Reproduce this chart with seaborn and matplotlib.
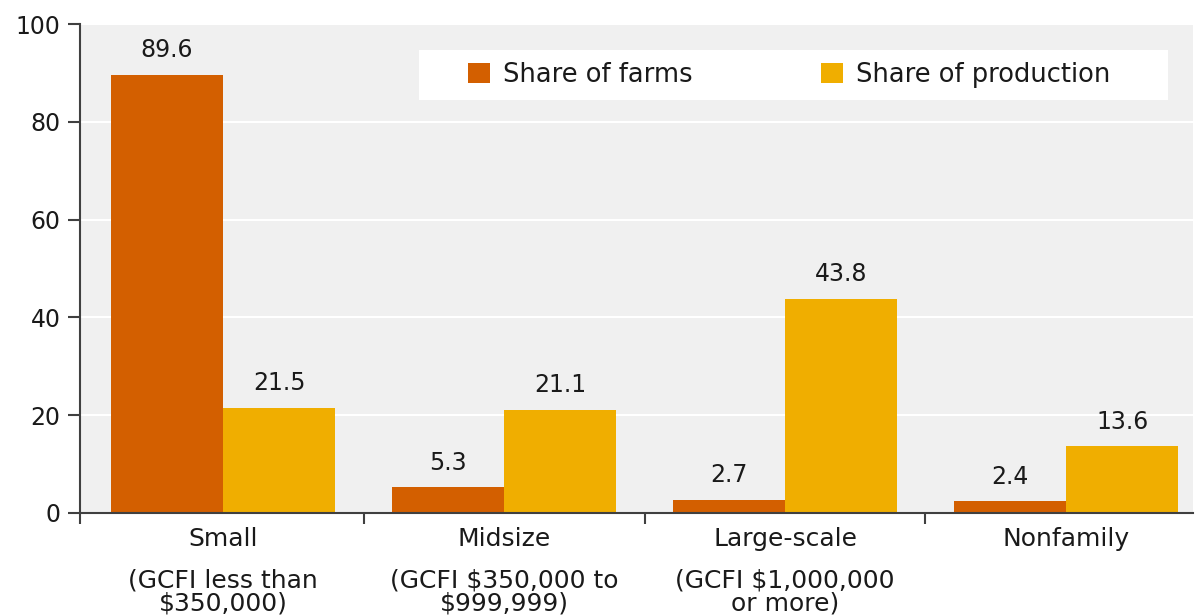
import matplotlib
matplotlib.use("Agg")
import matplotlib.pyplot as plt
import matplotlib.transforms as mtransforms
from matplotlib.patches import Rectangle
import seaborn as sns
import pandas as pd

# ---- data ----
categories = ["Small", "Midsize", "Large-scale", "Nonfamily"]
subtitles = ["(GCFI less than\n\\$350,000)",
             "(GCFI \\$350,000 to\n\\$999,999)",
             "(GCFI \\$1,000,000\nor more)",
             ""]
series_names = ["Share of farms", "Share of production"]
share_farms = [89.6, 5.3, 2.7, 2.4]
share_production = [21.5, 21.1, 43.8, 13.6]
y_ticks = [0, 20, 40, 60, 80, 100]

colors = ["#D35F00", "#F0AE00"]

df = pd.DataFrame({
    "category": categories * 2,
    "series": [series_names[0]] * 4 + [series_names[1]] * 4,
    "value": share_farms + share_production,
})

sns.set_theme(style="whitegrid", rc={
    "axes.facecolor": "#F0F0F0",
    "figure.facecolor": "white",
    "grid.color": "white",
    "grid.linewidth": 1.5,
})
plt.rcParams["font.family"] = ["DejaVu Sans"]

fig = plt.figure(figsize=(11.95, 6.16), dpi=100)
ax = fig.add_axes([80 / 1195, 1 - 513 / 616, 1113 / 1195, (513 - 24) / 616])

sns.barplot(data=df, x="category", y="value", hue="series", order=categories,
            hue_order=series_names, palette=colors, saturation=1, ax=ax,
            width=0.8, linewidth=0, zorder=2)

for cont in ax.containers:
    ax.bar_label(cont, fmt="%.1f", padding=9, fontsize=17, color="#1a1a1a")

xl = (-0.509, 3.452)
ax.set_xlim(*xl)
ax.set_ylim(0, 100)
ax.set_yticks(y_ticks)
ax.set_yticklabels([str(t) for t in y_ticks], fontsize=17, color="#1a1a1a")
ax.set_xlabel("")
ax.set_ylabel("")
ax.grid(axis="x", visible=False)
ax.grid(axis="y", color="white", linewidth=1.5)
ax.set_axisbelow(True)

for s in ["top", "right"]:
    ax.spines[s].set_visible(False)
for s in ["left", "bottom"]:
    ax.spines[s].set_visible(True)
    ax.spines[s].set_color("#404040")
    ax.spines[s].set_linewidth(1.5)
    ax.spines[s].set_zorder(3)

ax.tick_params(axis="y", left=True, length=9, width=1.5, color="#404040", pad=5)
ax.set_xticks(range(len(categories)))
ax.set_xticklabels(categories, fontsize=18, color="#1a1a1a")
ax.tick_params(axis="x", which="major", length=0, pad=10)
ax.set_xticks([xl[0], 0.5, 1.5, 2.5], minor=True)
ax.tick_params(axis="x", which="minor", bottom=True, length=8, width=1.5,
               color="#404040", direction="out")

trans = mtransforms.blended_transform_factory(ax.transData, ax.transAxes)
for i, sub in enumerate(subtitles):
    if sub:
        ax.text(i, -0.114, sub, transform=trans, ha="center", va="top",
                fontsize=18, color="#1a1a1a", linespacing=0.95)

# legend with white background box
ax.add_patch(Rectangle((0.3046, 0.845), 0.6729, 0.102, transform=ax.transAxes,
                       facecolor="white", edgecolor="none", zorder=4))
handles, labels = ax.get_legend_handles_labels()
if ax.get_legend() is not None:
    ax.get_legend().remove()
leg = ax.legend(handles, labels, loc="center", bbox_to_anchor=(0.637, 0.896),
                ncol=2, frameon=False, fontsize=18.5, handlelength=0.85,
                handleheight=0.85, handletextpad=0.5, columnspacing=5.0)
leg.set_zorder(5)
for t in leg.get_texts():
    t.set_color("#1a1a1a")

fig.savefig("out.png", dpi=100)
